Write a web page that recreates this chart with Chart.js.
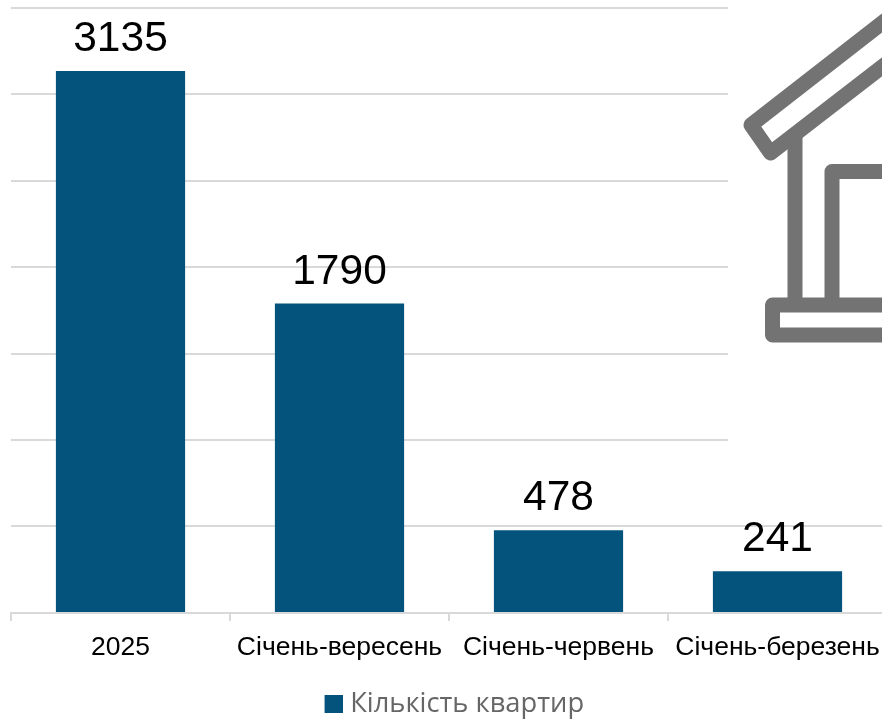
<!DOCTYPE html>
<html><head><meta charset="utf-8">
<style>html,body{margin:0;padding:0;background:#fff;overflow:hidden;width:882px;height:719px}canvas{display:block}</style>
<script src="https://cdn.jsdelivr.net/npm/chart.js@4"></script>
</head><body><canvas id="c" width="906" height="728"></canvas>
<script>
const categories = ["2025","Січень-вересень","Січень-червень","Січень-березень"];
const apartments = [3135,1790,478,241];
const seriesName = "Кількість квартир";
const barColor = "#03537c", gridColor = "#d9d9d9", iconColor = "#737373";

const barLabels = {id:"barLabels",afterDatasetsDraw(chart){
  const ctx=chart.ctx,meta=chart.getDatasetMeta(0);
  ctx.save();ctx.font='42.5px "Liberation Sans"';ctx.fillStyle="#000";ctx.textAlign="center";ctx.textBaseline="alphabetic";
  meta.data.forEach((el,i)=>ctx.fillText(String(apartments[i]),el.x,el.y-20));
  ctx.restore();
}};
const house = {id:"house",beforeDatasetsDraw(chart){
  const ctx=chart.ctx;
  ctx.save();
  ctx.fillStyle="#fff";ctx.fillRect(728,0,200,480);
  ctx.strokeStyle=iconColor;ctx.lineWidth=15;ctx.lineJoin="round";ctx.lineCap="butt";
  const path=p=>{ctx.beginPath();p.forEach((q,i)=>i?ctx.lineTo(q[0],q[1]):ctx.moveTo(q[0],q[1]));ctx.stroke();};
  path([[795,300],[795,136]]);
  path([[832,300],[832,171.5],[900,171.5]]);
  path([[900,305],[772.5,305],[772.5,335],[900,335]]);
  path([[900,9],[751,125],[770.5,153],[900,53]]);
  ctx.restore();
}};
const legendShift = {id:"legendShift",afterLayout(chart){chart.legend.left+=5.3;chart.legend.right+=5.3;}};
const swatch = document.createElement("canvas");
swatch.width=24;swatch.height=18;
const sctx=swatch.getContext("2d");sctx.fillStyle=barColor;sctx.fillRect(6,0,18,18);

new Chart(document.getElementById("c"),{
  type:"bar",
  data:{labels:categories,datasets:[{label:seriesName,data:apartments,backgroundColor:barColor,pointStyle:swatch,categoryPercentage:1,barPercentage:0.59}]},
  plugins:[house,barLabels,legendShift],
  options:{
    responsive:false,animation:false,
    layout:{padding:{left:11,right:19,top:8,bottom:0}},
    scales:{
      x:{afterFit(s){s.height+=6;},
         grid:{display:true,drawOnChartArea:false,drawTicks:true,tickLength:8,tickColor:gridColor,tickWidth:2,color:gridColor,lineWidth:2},
         border:{display:true,color:gridColor,width:2},
         ticks:{font:{family:"Liberation Sans",size:26.5},color:"#000",maxRotation:0,autoSkip:false,padding:11}},
      y:{min:0,max:3500,afterFit(s){s.width=0;},
         grid:{color:gridColor,lineWidth:2,drawTicks:false},border:{display:false},
         ticks:{display:false,stepSize:500}}
    },
    plugins:{
      tooltip:{enabled:false},
      legend:{position:"bottom",align:"center",
        labels:{font:{family:"Open Sans",size:27.3},color:"#666666",usePointStyle:true,boxWidth:12,boxHeight:18,padding:10}}
    }
  }
});
</script></body></html>
